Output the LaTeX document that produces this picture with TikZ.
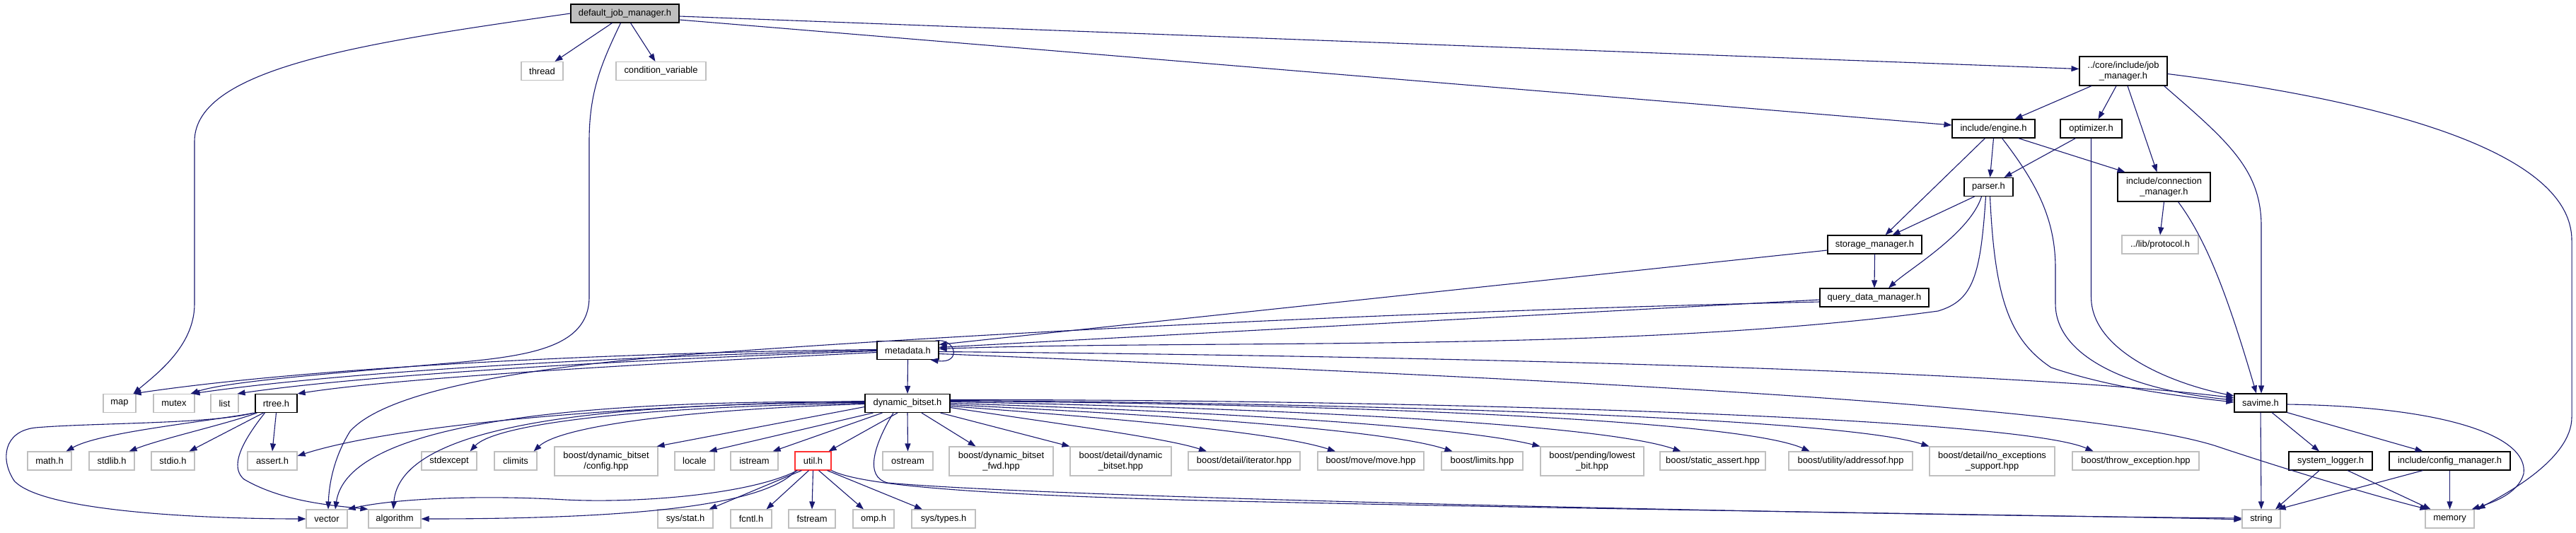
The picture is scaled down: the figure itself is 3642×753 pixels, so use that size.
\documentclass[tikz,border=0pt]{standalone}
\usepackage{fontspec}
\newfontfamily\lsf{Liberation Sans}
\usetikzlibrary{arrows.meta}
\definecolor{navyc}{HTML}{191970}
\definecolor{greyc}{HTML}{BFBFBF}
\definecolor{redc}{HTML}{FF3030}
\tikzset{
  base/.style={rectangle, inner sep=0pt, minimum height=26pt, align=center, fill=white, line width=1.1pt,
    font={\lsf\fontsize{12.9}{14.6}\selectfont}},
  doc/.style={base, draw=black},
  ext/.style={base, draw=greyc},
  rootnode/.style={base, draw=black, fill=greyc},
  badnode/.style={base, draw=redc},
  tall/.style={minimum height=41pt},
  edge/.style={draw=navyc, line width=1.1pt, -{Triangle[length=11pt,width=8pt]}},
}
\begin{document}
\begin{tikzpicture}[x=1pt,y=-1pt]
\path[use as bounding box, fill=white] (0,0) rectangle (3642,753);

% ---------------- nodes ----------------
\node[rootnode, minimum width=153pt] (djm) at (883.5,19) {default\_job\_manager.h};
\node[ext, minimum width=59pt] (thread) at (766.5,100.5) {thread};
\node[ext, minimum width=127pt] (cond) at (934.5,100.5) {condition\_variable};
\node[doc, tall, minimum width=124pt] (jm) at (3002,100.5) {../core/include/job\\\_manager.h};
\node[doc, minimum width=117pt] (engine) at (2818.5,182) {include/engine.h};
\node[doc, minimum width=87pt] (optimizer) at (2956.5,182) {optimizer.h};
\node[doc, tall, minimum width=131pt] (conn) at (3059.5,264.5) {include/connection\\\_manager.h};
\node[doc, minimum width=69pt] (parser) at (2811.5,264.5) {parser.h};
\node[ext, minimum width=108pt] (protocol) at (3054,346) {../lib/protocol.h};
\node[doc, minimum width=133pt] (sm) at (2650.5,346) {storage\_manager.h};
\node[doc, minimum width=154pt] (qdm) at (2650,421) {query\_data\_manager.h};
\node[doc, minimum width=87pt] (metadata) at (1283.5,495.5) {metadata.h};
\node[doc, minimum width=74pt] (savime) at (3196,570) {savime.h};
\node[ext, minimum width=46pt] (map) at (169,570.5) {map};
\node[ext, minimum width=58pt] (mutex) at (246,570.5) {mutex};
\node[ext, minimum width=39pt] (list) at (317.5,570.5) {list};
\node[doc, minimum width=59pt] (rtree) at (390.5,570.5) {rtree.h};
\node[doc, minimum width=120pt] (dbs) at (1283,570.5) {dynamic\_bitset.h};

\node[ext, minimum width=62pt] (math) at (70,652) {math.h};
\node[ext, minimum width=64pt] (stdlib) at (158,652) {stdlib.h};
\node[ext, minimum width=61pt] (stdio) at (244.5,652) {stdio.h};
\node[ext, minimum width=70pt] (assert) at (385,652) {assert.h};
\node[ext, minimum width=78pt] (stdexcept) at (635,652) {stdexcept};
\node[ext, minimum width=60pt] (climits) at (729,652) {climits};
\node[ext, tall, minimum width=146pt] (cfg) at (857,652.5) {boost/dynamic\_bitset\\/config.hpp};
\node[ext, minimum width=56pt] (locale) at (982,652) {locale};
\node[ext, minimum width=67pt] (istream) at (1066.5,652) {istream};
\node[badnode, minimum width=51pt] (util) at (1149.5,652) {util.h};
\node[ext, minimum width=71pt] (ostream) at (1283.5,652) {ostream};
\node[ext, tall, minimum width=147pt] (fwd) at (1415.5,652.5) {boost/dynamic\_bitset\\\_fwd.hpp};
\node[ext, tall, minimum width=143pt] (ddb) at (1584.5,652.5) {boost/detail/dynamic\\\_bitset.hpp};
\node[ext, minimum width=158pt] (iter) at (1759,652) {boost/detail/iterator.hpp};
\node[ext, minimum width=150pt] (move) at (1938,652) {boost/move/move.hpp};
\node[ext, minimum width=115pt] (limits) at (2095.5,652) {boost/limits.hpp};
\node[ext, tall, minimum width=146pt] (lowest) at (2251,652.5) {boost/pending/lowest\\\_bit.hpp};
\node[ext, minimum width=149pt] (sa) at (2421.5,652) {boost/static\_assert.hpp};
\node[ext, minimum width=175pt] (addr) at (2616.5,652) {boost/utility/addressof.hpp};
\node[ext, tall, minimum width=177pt] (noexc) at (2816.5,652.5) {boost/detail/no\_exceptions\\\_support.hpp};
\node[ext, minimum width=179pt] (throw) at (3019.5,652) {boost/throw\_exception.hpp};
\node[doc, minimum width=118pt] (syslog) at (3295,652) {system\_logger.h};
\node[doc, minimum width=171pt] (config) at (3463.5,652) {include/config\_manager.h};

\node[ext, minimum width=58pt] (vector) at (462,734) {vector};
\node[ext, minimum width=74pt] (algorithm) at (558,734) {algorithm};
\node[ext, minimum width=78pt] (sysstat) at (969,734) {sys/stat.h};
\node[ext, minimum width=58pt] (fcntl) at (1062,734) {fcntl.h};
\node[ext, minimum width=66pt] (fstream) at (1148,734) {fstream};
\node[ext, minimum width=58pt] (omp) at (1235,734) {omp.h};
\node[ext, minimum width=90pt] (systypes) at (1334,734) {sys/types.h};
\node[ext, minimum width=54pt] (string) at (3197,734) {string};
\node[ext, minimum width=69pt] (memory) at (3463.5,734) {memory};

% ---------------- edges ----------------
% default_job_manager.h
\draw[edge] (djm.west) .. controls (520,60) and (275,95) .. (275,200) -- (275,430) .. controls (275,490) and (220,530) .. ([xshift=-4pt]map.north east);
\draw[edge] ([xshift=-18pt]djm.south) -- ([xshift=18pt]thread.north);
\draw[edge] ([xshift=8pt]djm.south) -- ([xshift=-8pt]cond.north);
\draw[edge] ([xshift=-6pt]djm.south) .. controls (850,90) and (833,130) .. (833,200) -- (833,420) .. controls (833,495) and (740,505) .. (620,515) .. controls (450,530) and (320,540) .. ([xshift=-6pt]mutex.north east);
\draw[edge] ([yshift=-4pt]djm.east) -- ([yshift=3pt]jm.west);
\draw[edge] ([yshift=-9pt]djm.east) -- ([yshift=5pt]engine.west);

% job_manager.h
\draw[edge] ([xshift=-45pt]jm.south) -- ([xshift=30pt]engine.north);
\draw[edge] ([xshift=-10pt]jm.south) -- ([xshift=10pt]optimizer.north);
\draw[edge] ([xshift=6pt]jm.south) -- ([xshift=-10pt]conn.north);
\draw[edge] ([xshift=-5pt]jm.south east) .. controls (3150,200) and (3197,240) .. (3197,320) -- ([xshift=1pt]savime.north);
\draw[edge] ([yshift=-4pt]jm.east) .. controls (3350,140) and (3636,210) .. (3636,340) -- (3636,590) .. controls (3636,650) and (3540,700) .. ([xshift=4pt]memory.north east);

% engine.h
\draw[edge] ([xshift=-12pt]engine.south) -- ([xshift=15pt]sm.north);
\draw[edge] (engine.south) -- ([xshift=2pt]parser.north);
\draw[edge] ([xshift=35pt]engine.south) -- ([xshift=-55pt]conn.north);
\draw[edge] ([xshift=12pt]engine.south) .. controls (2880,260) and (2906,310) .. (2906,380) -- (2906,430) .. controls (2906,500) and (3000,550) .. ([yshift=4pt]savime.west);

% optimizer.h
\draw[edge] ([xshift=-22pt]optimizer.south) -- ([xshift=22pt]parser.north);
\draw[edge] (optimizer.south) -- (2956.5,420) .. controls (2956.5,500) and (3080,545) .. ([yshift=10pt]savime.west);

% connection_manager.h
\draw[edge] (conn.south) -- (protocol.north);
\draw[edge] ([xshift=20pt]conn.south) .. controls (3120,340) and (3150,420) .. ([xshift=-6pt]savime.north);

% parser.h
\draw[edge] ([xshift=-20pt]parser.south) -- ([xshift=25pt]sm.north);
\draw[edge] ([xshift=-10pt]parser.south) .. controls (2785,330) and (2700,380) .. ([xshift=20pt]qdm.north);
\draw[edge] ([xshift=-4pt]parser.south) .. controls (2800,390) and (2790,425) .. (2740,440) .. controls (2300,500) and (1700,480) .. ([yshift=2pt]metadata.east);
\draw[edge] ([xshift=2pt]parser.south) .. controls (2820,420) and (2840,480) .. (2900,520) .. controls (2990,550) and (3080,560) .. ([yshift=1pt]savime.west);

% storage_manager.h
\draw[edge] (sm.south) -- (qdm.north);
\draw[edge] ([yshift=-8pt]sm.west) -- ([yshift=8pt]metadata.east);

% query_data_manager.h
\draw[edge] ([yshift=-3pt]qdm.west) -- ([yshift=4pt]metadata.east);
\draw[edge] ([yshift=-6pt]qdm.west) .. controls (2000,440) and (1400,470) .. (995,500) .. controls (700,522) and (540,560) .. (495,610) .. controls (470,650) and (465,690) .. ([xshift=2pt]vector.north);

% savime.h
\draw[edge] (savime.south) -- (string.north);
\draw[edge] ([xshift=16pt]savime.south) -- ([xshift=-16pt]syslog.north);
\draw[edge] (savime.south east) -- ([xshift=-38pt]config.north);
\draw[edge] ([yshift=-2pt]savime.east) .. controls (3450,575) and (3575,615) .. (3568,670) .. controls (3560,700) and (3520,712) .. ([xshift=-4pt]memory.north east);

% system_logger.h / config_manager.h
\draw[edge] ([xshift=-16pt]syslog.south) -- ([xshift=20pt]string.north);
\draw[edge] ([xshift=24pt]syslog.south) -- ([xshift=-27pt]memory.north);
\draw[edge] ([xshift=-38pt]config.south) -- ([xshift=-4pt]string.north east);
\draw[edge] (config.south) -- (memory.north);

% metadata.h
\draw[edge] ([xshift=-5pt]metadata.north east) .. controls (1352,478) and (1360,515) .. ([xshift=-12pt]metadata.south east);
\draw[edge] ([yshift=1pt]metadata.west) .. controls (900,498) and (450,518) .. ([xshift=-4pt]map.north east);
\draw[edge] (metadata.west) .. controls (900,503) and (500,524) .. ([xshift=-4pt]mutex.north east);
\draw[edge] ([yshift=-1pt]metadata.west) .. controls (900,508) and (520,530) .. ([xshift=-2pt]list.north east);
\draw[edge] ([yshift=-3pt]metadata.west) .. controls (900,515) and (560,535) .. (rtree.north east);
\draw[edge] (metadata.south) -- (dbs.north);
\draw[edge] ([yshift=-2pt]metadata.east) .. controls (2200,505) and (2900,530) .. ([yshift=7pt]savime.west);
\draw[edge] ([yshift=-5pt]metadata.east) .. controls (2300,540) and (2950,575) .. (3130,630) .. controls (3250,670) and (3370,705) .. ([xshift=4pt]memory.north west);

% rtree.h
\draw[edge] (rtree.south west) .. controls (280,598) and (140,612) .. ([xshift=-8pt]math.north east);
\draw[edge] ([xshift=3pt]rtree.south west) .. controls (320,600) and (230,620) .. ([xshift=-8pt]stdlib.north east);
\draw[edge] ([xshift=12pt]rtree.south west) -- ([xshift=-8pt]stdio.north east);
\draw[edge] (rtree.south) -- (assert.north);
\draw[edge] ([xshift=-2pt]rtree.south west) .. controls (300,600) and (130,598) .. (50,605) .. controls (5,610) and (0,650) .. (20,680) .. controls (60,725) and (300,734) .. (vector.west);
\draw[edge] ([xshift=14pt]rtree.south west) .. controls (330,640) and (330,665) .. (345,678) .. controls (400,710) and (470,715) .. (algorithm.north west);

% dynamic_bitset.h
\draw[edge] ([yshift=3pt]dbs.west) .. controls (900,572) and (560,600) .. ([yshift=7pt]assert.east);
\draw[edge] ([yshift=2pt]dbs.west) .. controls (750,565) and (490,610) .. ([xshift=12pt]vector.north);
\draw[edge] ([yshift=1pt]dbs.west) .. controls (800,570) and (565,610) .. ([xshift=-2pt]algorithm.north);
\draw[edge] (dbs.west) .. controls (900,575) and (700,600) .. ([xshift=-10pt]stdexcept.north east);
\draw[edge] ([yshift=-1pt]dbs.west) .. controls (950,580) and (790,605) .. ([xshift=-5pt]climits.north east);
\draw[edge] ([yshift=-5pt]dbs.west) -- ([xshift=-2pt]cfg.north east);
\draw[edge] ([xshift=12pt]dbs.south west) -- ([xshift=-8pt]locale.north east);
\draw[edge] ([xshift=25pt]dbs.south west) -- ([xshift=-8pt]istream.north east);
\draw[edge] ([xshift=-14pt]dbs.south) -- ([xshift=-4pt]util.north east);
\draw[edge] (dbs.south) -- (ostream.north);
\draw[edge] ([xshift=20pt]dbs.south) -- ([xshift=-36pt]fwd.north);
\draw[edge] ([xshift=-14pt]dbs.south east) -- (ddb.north west);
\draw[edge] ([yshift=-6pt]dbs.east) .. controls (1500,600) and (1650,620) .. ([xshift=-53pt]iter.north);
\draw[edge] ([yshift=-4pt]dbs.east) .. controls (1550,590) and (1800,610) .. ([xshift=-50pt]move.north);
\draw[edge] ([yshift=-2pt]dbs.east) .. controls (1600,585) and (1950,605) .. ([xshift=-42pt]limits.north);
\draw[edge] (dbs.east) .. controls (1650,580) and (2050,600) .. (lowest.north west);
\draw[edge] ([yshift=2pt]dbs.east) .. controls (1700,575) and (2250,595) .. ([xshift=-45pt]sa.north);
\draw[edge] ([yshift=3pt]dbs.east) .. controls (1800,570) and (2450,590) .. ([xshift=-58pt]addr.north);
\draw[edge] ([yshift=4pt]dbs.east) .. controls (1900,570) and (2600,590) .. (noexc.north west);
\draw[edge] ([yshift=5pt]dbs.east) .. controls (2000,565) and (2850,590) .. ([xshift=-60pt]throw.north);
\draw[edge] ([xshift=-20pt]dbs.south) .. controls (1235,630) and (1222,675) .. (1255,683) .. controls (1500,705) and (2600,728) .. ([yshift=1pt]string.west);

% util.h
\draw[edge] ([xshift=4pt]util.south west) .. controls (1060,700) and (900,712) .. (800,707) .. controls (680,700) and (560,705) .. (vector.north east);
\draw[edge] ([xshift=2pt]util.south west) .. controls (1080,715) and (900,734) .. (algorithm.east);
\draw[edge] ([xshift=10pt]util.south west) -- ([xshift=-6pt]sysstat.north east);
\draw[edge] ([xshift=-6pt]util.south) -- ([xshift=-8pt]fcntl.north east);
\draw[edge] (util.south) -- (fstream.north);
\draw[edge] ([xshift=8pt]util.south) -- ([xshift=-14pt]omp.north);
\draw[edge] ([xshift=-6pt]util.south east) -- ([xshift=-30pt]systypes.north);
\draw[edge] (util.south east) .. controls (1220,688) and (1400,700) .. (1700,708) .. controls (2300,722) and (3000,730) .. ([yshift=-1pt]string.west);
\end{tikzpicture}
\end{document}
